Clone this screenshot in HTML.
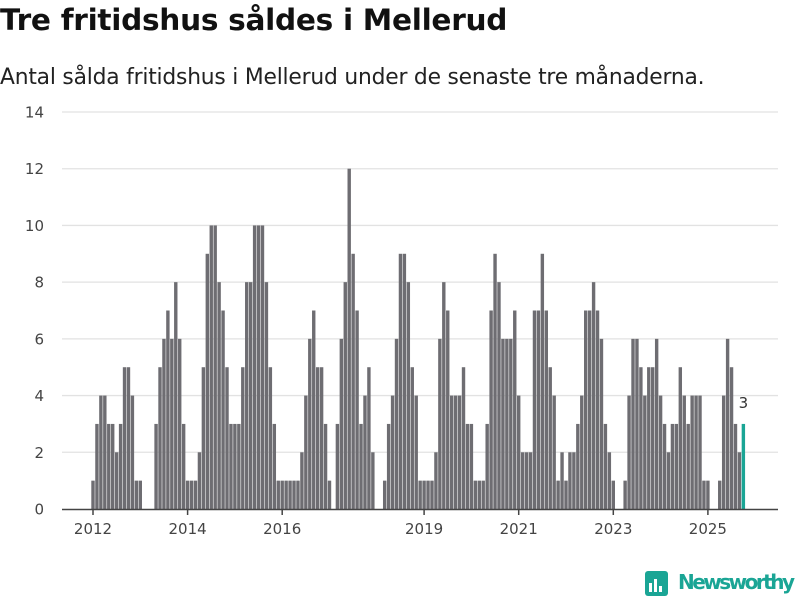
<!DOCTYPE html>
<html><head><meta charset="utf-8">
<style>
body{margin:0;background:#fff;width:800px;height:600px;overflow:hidden;font-family:"DejaVu Sans","Liberation Sans",sans-serif;}
#title{position:absolute;left:0;top:3px;font-size:29.6px;font-weight:bold;color:#111;letter-spacing:-0.3px;white-space:nowrap}
#sub{position:absolute;left:0;top:65px;font-size:21.8px;color:#222;white-space:nowrap;letter-spacing:-0.2px}
svg{position:absolute;left:0;top:0}
</style></head><body>
<div id="title">Tre fritidshus såldes i Mellerud</div>
<div id="sub">Antal sålda fritidshus i Mellerud under de senaste tre månaderna.</div>
<svg id="chart" width="800" height="600"></svg>
<script>
const values2012_2013 = [1,3,4,4,3,3,2,3,5,5,4,1, 1,0,0,0,3,5,6,7,6,8,6,3];
const values2014_2019 = [1,1,1,2,5,9,10,10,8,7,5,3, 3,3,5,8,8,10,10,10,8,5,3,1, 1,1,1,1,1,2,4,6,7,5,5,3, 1,0,3,6,8,12,9,7,3,4,5,2, 0,0,1,3,4,6,9,9,8,5,4,1];
const values2019_2025 = [1,1,1,2,6,8,7,4,4,4,5,3, 3,1,1,1,3,7,9,8,6,6,6,7, 4,2,2,2,7,7,9,7,5,4,1,2, 1,2,2,3,4,7,7,8,7,6,3,2, 1,0,0,1,4,6,6,5,4,5,5,6, 4,3,2,3,3,5,4,3,4,4,4,1, 1,0,0,1,4,6,5,3,2,3];
const startYear = 2012;
const yTicks = [0,2,4,6,8,10,12,14];
const xTickYears = [2012,2014,2016,2019,2021,2023,2025];

const values = values2012_2013.concat(values2014_2019, values2019_2025);
const svg = document.getElementById('chart');
const NS = 'http://www.w3.org/2000/svg';
const x0 = 93, monthW = 47.3/12;
const xScale = i => x0 + i*monthW;
const yScale = v => 509 - v*(397/14);
function mk(tag, attrs){const e=document.createElementNS(NS,tag);for(const k in attrs)e.setAttribute(k,attrs[k]);svg.appendChild(e);return e;}

yTicks.forEach(t=>{
  const y=yScale(t);
  if(t>0){const g=mk('line',{x1:62,x2:778,y1:y,y2:y,stroke:'#e2e2e2','stroke-width':1.3});
  
  }
  const l=mk('text',{x:44,y:y+5.5,'text-anchor':'end','font-size':15,fill:'#444','font-family':'DejaVu Sans, sans-serif'});
  l.textContent=t;
  
  
});

values.forEach((v,i)=>{
  if(v<=0)return;
  const last=i===values.length-1;
  const r=mk('rect',{x:xScale(i)-1.7,y:yScale(v),width:3.4,height:509-yScale(v),fill:last?'#1aa595':'#6e6d72'});
  
  
  if(last){
    const t=mk('text',{x:xScale(i),y:yScale(v)-16,'text-anchor':'middle','font-size':15,fill:'#333','font-family':'DejaVu Sans, sans-serif'});
    t.textContent=v;
    
    
  }
});

const ax=mk('line',{x1:62,x2:778,y1:509.5,y2:509.5,stroke:'#444','stroke-width':1.5});


xTickYears.forEach(yr=>{
  const x=xScale((yr-startYear)*12);
  const tk=mk('line',{x1:x,x2:x,y1:509,y2:515,stroke:'#444','stroke-width':1.5});
  
  
  const l=mk('text',{x:x,y:534,'text-anchor':'middle','font-size':15,fill:'#444','font-family':'DejaVu Sans, sans-serif'});
  l.textContent=yr;
  
  
});
</script>
<svg width="800" height="600" style="position:absolute;left:0;top:0;pointer-events:none">
  <rect x="645" y="571" width="23" height="25" rx="3" fill="#1aa595"/>
  <rect x="649" y="583" width="3" height="9" fill="#fff"/><rect x="654" y="579" width="3" height="13" fill="#fff"/><rect x="659" y="586" width="3" height="6" fill="#fff"/>
  <text x="678" y="589" font-size="20" font-weight="bold" fill="#1aa595" font-family="DejaVu Sans, sans-serif" textLength="117">Newsworthy</text>
</svg>
</body></html>
